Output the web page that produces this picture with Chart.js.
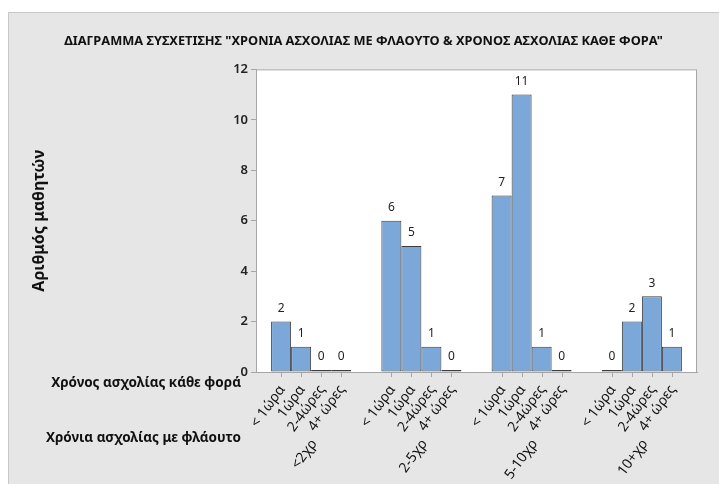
<!DOCTYPE html>
<html>
<head>
<meta charset="utf-8">
<script src="https://cdn.jsdelivr.net/npm/chart.js@4"></script>
<style>
  html, body { margin: 0; padding: 0; background: #fff; }
  #wrap { width: 719px; height: 484px; }
</style>
</head>
<body>
<div id="wrap"><canvas id="barChart" width="719" height="484"></canvas></div>
<script>
var groups = ["<2χρ", "2-5χρ", "5-10χρ", "10+χρ"];
var sessionTimes = ["< 1ώρα", "1ώρα", "2-4ώρες", "4+ ώρες"];
var lessThanHour = [2, 6, 7, 0];
var oneHour = [1, 5, 11, 2];
var twoToFour = [0, 1, 1, 3];
var fourPlus = [0, 0, 0, 1];
var yTicks = [0, 2, 4, 6, 8, 10, 12];

var seriesValues = [lessThanHour, oneHour, twoToFour, fourPlus];
var font = "'Noto Sans', 'Open Sans', sans-serif";
var labelAngle = -0.3 * Math.PI;

var datasets = [];
for (var i = 0; i < sessionTimes.length; i++) {
  datasets.push({
    label: sessionTimes[i],
    data: seriesValues[i],
    backgroundColor: "#7ba7d9",
    borderColor: "#3c3c3c",
    borderWidth: 1,
    borderSkipped: false,
    minBarLength: 2,
    barPercentage: 1,
    categoryPercentage: 0.726,
  });
}

var decorPlugin = {
  id: "decor",
  beforeDraw: function (chart) {
    var c = chart.ctx;
    var a = chart.chartArea;
    c.save();
    c.fillStyle = "#ffffff";
    c.fillRect(0, 0, chart.width, chart.height);
    c.fillStyle = "#e6e6e6";
    c.fillRect(8, 12, chart.width - 8, chart.height - 12);
    c.strokeStyle = "#c8c8c8";
    c.lineWidth = 1;
    c.beginPath();
    c.moveTo(8.5, chart.height);
    c.lineTo(8.5, 12.5);
    c.lineTo(chart.width, 12.5);
    c.stroke();
    c.fillStyle = "#ffffff";
    c.fillRect(a.left, a.top, a.right - a.left, a.bottom - a.top);
    c.restore();
  },
  afterDatasetsDraw: function (chart) {
    var c = chart.ctx;
    var a = chart.chartArea;
    c.save();
    // plot border
    c.strokeStyle = "#a6a6a6";
    c.lineWidth = 1;
    c.strokeRect(a.left + 0.5, a.top + 0.5, a.right - a.left - 1, a.bottom - a.top);

    for (var d = 0; d < chart.data.datasets.length; d++) {
      var meta = chart.getDatasetMeta(d);
      for (var g = 0; g < meta.data.length; g++) {
        var bar = meta.data[g];
        var val = chart.data.datasets[d].data[g];
        // value label
        c.fillStyle = "#222";
        c.font = "12px " + font;
        c.textAlign = "center";
        c.textBaseline = "middle";
        c.fillText(String(val), bar.x, bar.y - 13);
        // tick mark
        c.strokeStyle = "#a6a6a6";
        c.beginPath();
        c.moveTo(Math.round(bar.x) + 0.5, a.bottom + 1);
        c.lineTo(Math.round(bar.x) + 0.5, a.bottom + 5);
        c.stroke();
        // session time label
        c.save();
        c.translate(bar.x + 1, a.bottom + 15);
        c.rotate(labelAngle);
        c.fillStyle = "#111";
        c.font = "14px " + font;
        c.textAlign = "right";
        c.textBaseline = "middle";
        c.fillText(chart.data.datasets[d].label, 0, 0);
        c.restore();
      }
    }

    // group labels
    var xs = chart.scales.x;
    for (var k = 0; k < groups.length; k++) {
      var gx = xs.getPixelForValue(k);
      c.save();
      c.translate(gx + 3, a.bottom + 69);
      c.rotate(labelAngle);
      c.fillStyle = "#111";
      c.font = "14px " + font;
      c.textAlign = "right";
      c.textBaseline = "middle";
      c.fillText(groups[k], 0, 0);
      c.restore();
    }

    // row labels on the left
    c.fillStyle = "#111";
    c.font = "bold 13.5px " + font;
    c.textAlign = "right";
    c.textBaseline = "middle";
    c.fillText("Χρόνος ασχολίας κάθε φορά", 241, 383);
    c.fillText("Χρόνια ασχολίας με φλάουτο", 241, 438);
    c.restore();
  },
};

var ctx = document.getElementById("barChart").getContext("2d");
var myChart = new Chart(ctx, {
  type: "bar",
  data: {
    labels: groups,
    datasets: datasets,
  },
  plugins: [decorPlugin],
  options: {
    responsive: false,
    animation: false,
    layout: {
      padding: { left: 30, right: 22, top: 0, bottom: 0 },
    },
    plugins: {
      legend: { display: false },
      tooltip: { enabled: false },
      title: {
        display: true,
        text: 'ΔΙΑΓΡΑΜΜΑ ΣΥΣΧΕΤΙΣΗΣ "ΧΡΟΝΙΑ ΑΣΧΟΛΙΑΣ ΜΕ ΦΛΑΟΥΤΟ & ΧΡΟΝΟΣ ΑΣΧΟΛΙΑΣ ΚΑΘΕ ΦΟΡΑ"',
        color: "#111",
        font: { family: font, size: 12.8, weight: "bold" },
        padding: { top: 34, bottom: 20 },
      },
    },
    scales: {
      x: {
        grid: { display: false },
        ticks: { display: false },
        border: { display: true, color: "#a6a6a6" },
        afterFit: function (scale) {
          scale.height = 112;
        },
      },
      y: {
        min: 0,
        max: 12,
        afterBuildTicks: function (scale) {
          scale.ticks = yTicks.map(function (v) { return { value: v }; });
        },
        grid: {
          drawOnChartArea: false,
          drawTicks: true,
          tickLength: 5,
          color: "#a6a6a6",
        },
        border: { display: true, color: "#a6a6a6" },
        ticks: {
          color: "#222",
          padding: 3,
          font: { family: font, size: 13, weight: "600" },
        },
        title: {
          display: true,
          text: "Αριθμός μαθητών",
          color: "#111",
          font: { family: font, size: 16, weight: "bold" },
          padding: 0,
        },
        afterFit: function (scale) {
          scale.width = 226;
        },
      },
    },
  },
});
</script>
</body>
</html>
